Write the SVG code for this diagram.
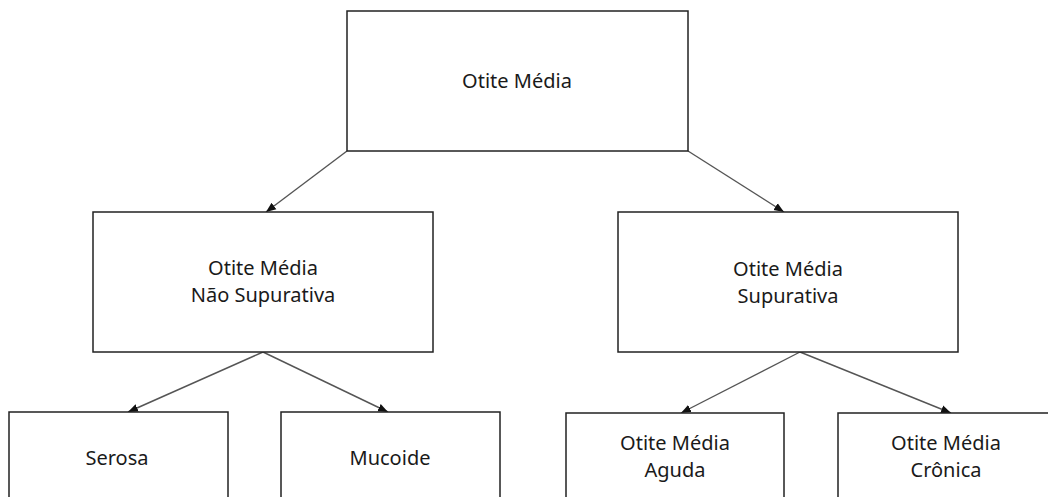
<svg xmlns="http://www.w3.org/2000/svg" width="1048" height="497" viewBox="0 0 1048 497">
<style>
.box{fill:#fff;stroke:#222;stroke-width:1.5}
.lbl{font-family:"Noto Sans","Open Sans","Liberation Sans",sans-serif;font-size:20px;fill:#1a1a1a;text-anchor:middle}
.con{stroke:#555;stroke-width:1.4;fill:none;marker-end:url(#ah)}
</style>
<defs>
<marker id="ah" markerUnits="userSpaceOnUse" markerWidth="10" markerHeight="10" viewBox="0 0 10 10" refX="10" refY="5" orient="auto">
<path d="M0,1 L10,5 L0,9 Z" fill="#111"/>
</marker>
</defs>
<rect width="1048" height="497" fill="#fff"/>
<g id="connectors">
<line class="con" x1="347" y1="151" x2="266" y2="212"/>
<line class="con" x1="688" y1="151" x2="784" y2="212"/>
<line class="con" x1="263" y1="352" x2="128" y2="412"/>
<line class="con" x1="263" y1="352" x2="388" y2="412"/>
<line class="con" x1="800" y1="352" x2="681" y2="413"/>
<line class="con" x1="800" y1="352" x2="951" y2="413"/>
</g>
<g id="n-otite-media">
<rect class="box" x="347" y="11" width="341" height="140"/>
<text class="lbl" x="517" y="88">Otite Média</text>
</g>
<g id="n-nao-supurativa">
<rect class="box" x="93" y="212" width="340" height="140"/>
<text class="lbl" x="263" y="275">Otite Média</text>
<text class="lbl" x="263" y="302">Não Supurativa</text>
</g>
<g id="n-supurativa">
<rect class="box" x="618" y="212" width="340" height="140"/>
<text class="lbl" x="788" y="276">Otite Média</text>
<text class="lbl" x="788" y="303">Supurativa</text>
</g>
<g id="n-serosa">
<rect class="box" x="9" y="412" width="219" height="120"/>
<text class="lbl" x="117" y="465">Serosa</text>
</g>
<g id="n-mucoide">
<rect class="box" x="281" y="412" width="219" height="120"/>
<text class="lbl" x="390" y="465">Mucoide</text>
</g>
<g id="n-aguda">
<rect class="box" x="566" y="413" width="218" height="120"/>
<text class="lbl" x="675" y="450">Otite Média</text>
<text class="lbl" x="675" y="477">Aguda</text>
</g>
<g id="n-cronica">
<rect class="box" x="838" y="413" width="218" height="120"/>
<text class="lbl" x="946" y="450">Otite Média</text>
<text class="lbl" x="946" y="477">Crônica</text>
</g>
</svg>
